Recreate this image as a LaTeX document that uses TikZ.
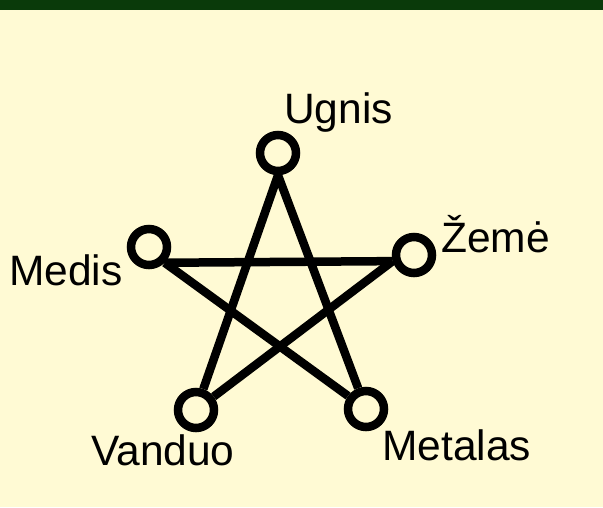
\documentclass[tikz,border=0pt]{standalone}
\usepackage{fontspec}
\setmainfont{Liberation Sans}
\definecolor{bgyellow}{RGB}{255,250,212}
\definecolor{topgreen}{RGB}{10,58,10}
\begin{document}
\begin{tikzpicture}[x=1pt,y=-1pt,
  ring/.style={circle,draw=black,line width=8.5pt,minimum size=36pt,inner sep=0pt},
  lbl/.style={anchor=base west,inner sep=0pt,font=\fontsize{42.5}{42.5}\selectfont},
  edge/.style={line width=8.5pt,draw=black}]
\fill[bgyellow] (0,0) rectangle (603,507);
\fill[topgreen] (0,0) rectangle (603,10);
\useasboundingbox (0,0) rectangle (603,507);
\node[ring] (ugnis) at (278,153) {};
\node[ring] (medis) at (149,247) {};
\node[ring] (zeme) at (414,255) {};
\node[ring] (vanduo) at (196,410) {};
\node[ring] (metalas) at (366,409) {};
\draw[edge] (ugnis.south) -- (vanduo);
\draw[edge] (ugnis.south) -- (metalas);
\draw[edge] (medis.-45) -- (zeme.196);
\draw[edge] (medis.-45) -- (metalas);
\draw[edge] (zeme.196) -- (vanduo);
\node[lbl] (tugnis) at (284,123) {Ugnis};
\node[lbl] (tmedis) at (9,285) {Medis};
\node[lbl] (tzeme) at (441,252) {Žemė};
\node[lbl] (tvanduo) at (91,465) {Vanduo};
\node[lbl] (tmetalas) at (382,460) {Metalas};
\end{tikzpicture}
\end{document}
